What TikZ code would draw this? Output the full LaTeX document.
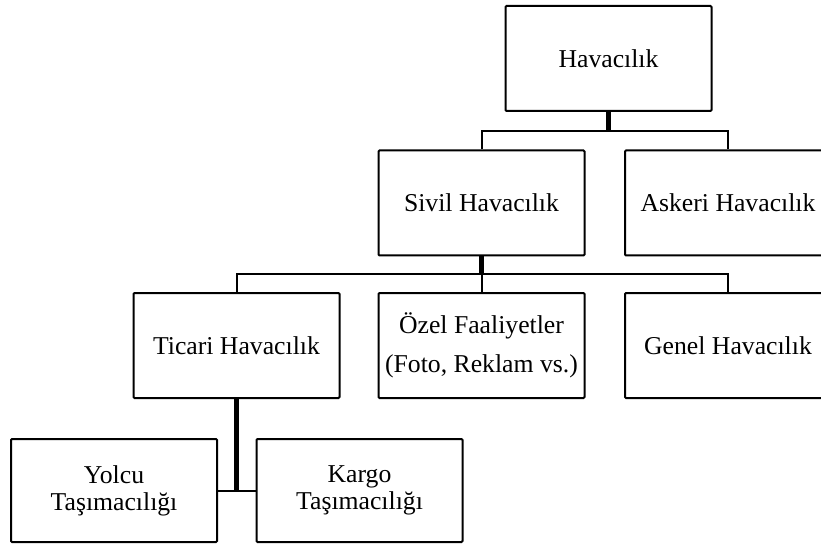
\documentclass[tikz,border=0pt]{standalone}
\usepackage{fontspec}
\setmainfont{Liberation Serif}
\begin{document}
\begin{tikzpicture}[x=1pt,y=1pt,
  box/.style={draw=black, line width=2pt, rounded corners=1pt, fill=white,
    minimum width=206pt, minimum height=105pt, inner sep=0pt, align=center,
    font=\fontsize{25.7}{27}\selectfont},
  widebox/.style={box, font=\fontsize{25.7}{39}\selectfont},
  conn/.style={line width=2pt, line join=miter},
  trunk/.style={line width=4.5pt}]
  \useasboundingbox (0,0) rectangle (821,544);
  \clip (0,0) rectangle (821,544);

  % boxes
  \node[box] (hav) at (608.5,485.5) {Havacılık};
  \node[box] (siv) at (481.5,341) {Sivil Havacılık};
  \node[box] (ask) at (728,341) {Askeri Havacılık};
  \node[box] (tic) at (236.5,198.5) {Ticari Havacılık};
  \node[widebox] (oze) at (481.5,198.5) {Özel Faaliyetler\\(Foto, Reklam vs.)};
  \node[box] (gen) at (728,198.5) {Genel Havacılık};
  \node[box, minimum height=103pt] (yol) at (114,53.5) {Yolcu\\Taşımacılığı};
  \node[box, minimum height=103pt] (kar) at (359.5,53.5) {Kargo\\Taşımacılığı};

  % levels of the horizontal bars
  \coordinate (b1) at (0,413);
  \coordinate (b2) at (0,270);

  % first level
  \draw[conn] (siv.north) -- (siv.north |- b1) -- (ask.north |- b1) -- (ask.north);
  \draw[trunk] (hav.south) -- (hav.south |- b1);

  % second level
  \draw[conn] (tic.north) -- (tic.north |- b2) -- (gen.north |- b2) -- (gen.north);
  \draw[conn] (oze.north) -- (oze.north |- b2);
  \draw[trunk] (siv.south) -- (siv.south |- b2);

  % third level
  \draw[conn] (yol.east) -- (kar.west);
  \draw[trunk] (tic.south) -- (tic.south |- yol.east);
\end{tikzpicture}
\end{document}
